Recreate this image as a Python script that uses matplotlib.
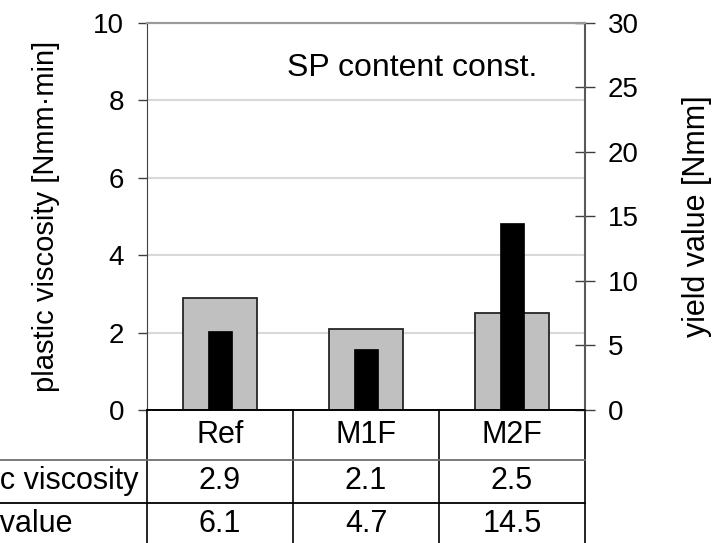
import matplotlib.pyplot as plt

categories = ["Ref", "M1F", "M2F"]
plastic_viscosity = [2.9, 2.1, 2.5]
yield_value = [6.1, 4.7, 14.5]
row_labels = ["plastic viscosity", "yield value"]

plt.rcParams['font.family'] = ['Liberation Sans', 'DejaVu Sans']

fig = plt.figure(figsize=(7.16, 5.43), dpi=100)
ax = fig.add_axes([147 / 716, 1 - 410 / 543, 438 / 716, 387 / 543])
ax2 = ax.twinx()

x = list(range(len(categories)))

# grey bars: plastic viscosity (left axis)
ax.bar(x, plastic_viscosity, width=0.507, color='#c0c0c0',
       edgecolor='#262626', linewidth=1.3, zorder=3)
# black bars: yield value (right axis)
ax2.bar(x, yield_value, width=0.17, color='black', edgecolor='black',
        linewidth=0.5, zorder=3)

ax.set_xlim(-0.5, len(categories) - 0.5)
ax.set_ylim(0, 10)
ax.set_yticks(range(0, 11, 2))
ax2.set_ylim(0, 30)
ax2.set_yticks(range(0, 31, 5))
ax.set_xticks([])

ax.yaxis.grid(True, color='#d9d9d9', linewidth=1.5, zorder=0)
ax.set_axisbelow(True)

for a in (ax, ax2):
    a.spines['top'].set_color('#9a9a9a')
    a.spines['top'].set_linewidth(1.5)
    a.spines['bottom'].set_color('black')
    a.spines['bottom'].set_linewidth(1.2)
ax.spines['left'].set_color('#404040')
ax2.spines['right'].set_color('#595959')
ax2.spines['right'].set_linewidth(1.5)
ax.spines['right'].set_visible(False)
ax2.spines['left'].set_visible(False)

ax.tick_params(axis='y', direction='out', length=6.5, width=1,
               color='#404040', labelsize=20, pad=10)
ax2.tick_params(axis='y', direction='inout', length=14, width=1,
                color='#404040', labelsize=20, pad=9.5)

ax.set_ylabel("plastic viscosity [Nmm\u00b7min]", fontsize=21, labelpad=24)
ax2.set_ylabel("yield value [Nmm]", fontsize=22, labelpad=31)

ax.text(0.606, 0.884, "SP content const.", transform=ax.transAxes,
        ha='center', va='center', fontsize=23)

# table below the plot
trans = ax.get_xaxis_transform()
row_top = [0, -0.1292, -0.2403]
row_bot = [-0.1292, -0.2403, -0.3514]
label_left = -0.51
bounds = [i - 0.5 for i in range(len(categories) + 1)]

for b in bounds:
    ax.plot([b, b], [0, row_bot[-1]], transform=trans, color='black',
            linewidth=1.2, clip_on=False)
for yl, col in [(row_top[1], '#707070'), (row_top[2], 'black'),
                (row_bot[2], 'black')]:
    ax.plot([label_left, 1], [yl, yl], transform=ax.transAxes, color=col,
            linewidth=1.3, clip_on=False)

rows = [categories,
        ["%.1f" % v for v in plastic_viscosity],
        ["%.1f" % v for v in yield_value]]
for r, texts in enumerate(rows):
    yc = (row_top[r] + row_bot[r]) / 2
    for i, t in enumerate(texts):
        ax.text(x[i], yc, t, transform=trans, ha='center', va='center',
                fontsize=22, clip_on=False)
    if r > 0:
        ax.text(-0.498, yc, row_labels[r - 1],
                transform=ax.transAxes, ha='left', va='center',
                fontsize=22, clip_on=False)

fig.savefig("out.png", dpi=100)
